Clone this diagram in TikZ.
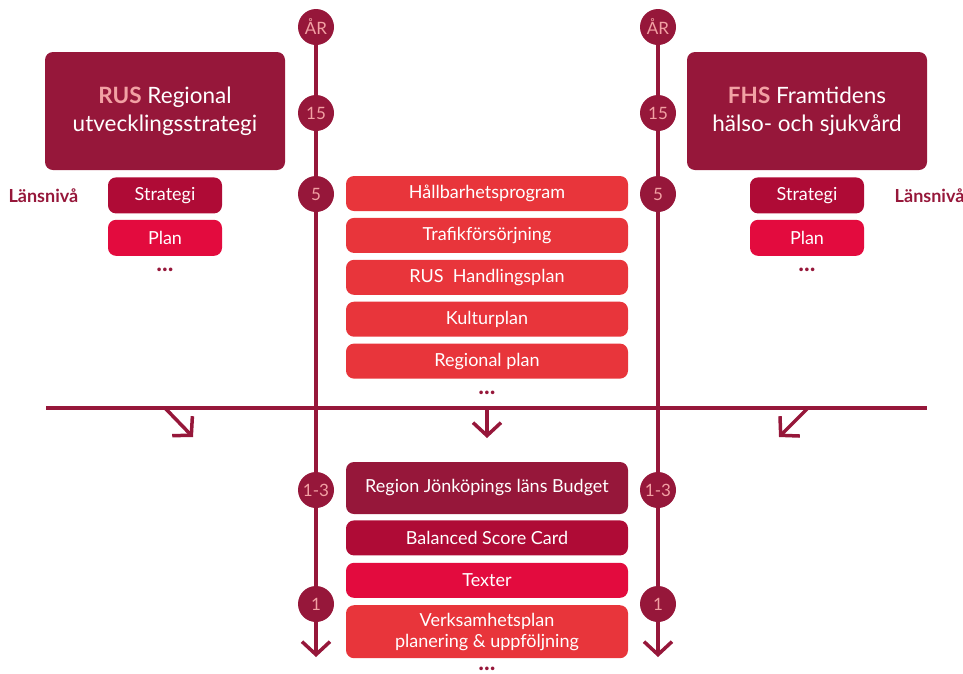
\documentclass[tikz,border=0pt]{standalone}
\usepackage{fontspec}
\setmainfont{Lato}
\usetikzlibrary{arrows.meta, positioning, backgrounds}
\definecolor{rusmaroon}{HTML}{96173A}
\definecolor{ruscrimson}{HTML}{AF0B36}
\definecolor{rusred}{HTML}{E30B3E}
\definecolor{ruscoral}{HTML}{E8353B}
\definecolor{ruspink}{HTML}{F2A1A4}

\begin{document}
\begin{tikzpicture}[x=1pt, y=-1pt, node distance=7pt,
    box/.style={rectangle, rounded corners=8pt, text=white, minimum width=282pt, minimum height=35pt, inner sep=0pt, align=center, font=\fontsize{18}{21}\selectfont},
    big/.style={box, fill=rusmaroon, minimum width=240pt, minimum height=118pt, font=\fontsize{22.5}{28}\selectfont},
    small/.style={box, minimum width=114pt, minimum height=36pt},
    year/.style={circle, fill=rusmaroon, text=ruspink, minimum size=36pt, inner sep=0pt, font=\fontsize{17}{18}\selectfont},
    level/.style={text=rusmaroon, font=\bfseries\fontsize{18}{20}\selectfont},
    dots/.style={text=rusmaroon, inner sep=0pt, anchor=base, font=\bfseries\fontsize{24}{24}\selectfont},
    line/.style={rusmaroon, line width=3.5pt},
    tip/.style={-{Straight Barb[length=13pt, width=28pt]}}
]
    \useasboundingbox (0,0) rectangle (963,673);

    \node (arL) [year] at (316,27) {ÅR};
    \node (fifteenL) [year] at (316,113) {15};
    \node (fiveL) [year] at (316,194) {5};
    \node (threeL) [year] at (316,490) {1-3};
    \node (oneL) [year] at (316,604) {1};
    \coordinate (endL) at (316,657);

    \node (arR) [year] at (658,27) {ÅR};
    \node (fifteenR) [year] at (658,113) {15};
    \node (fiveR) [year] at (658,194) {5};
    \node (threeR) [year] at (658,490) {1-3};
    \node (oneR) [year] at (658,604) {1};
    \coordinate (endR) at (658,657);

    \node (rus) [big] at (165,111) {\textbf{\textcolor{ruspink}{RUS}} Regional\\utvecklingsstrategi};
    \node (stratL) [small, fill=ruscrimson, below=7pt of rus] {Strategi};
    \node (planL) [small, fill=rusred, below=6pt of stratL] {Plan};
    \node (dotsL) [below=15pt of planL, dots] {...};
    \node (lvlL) [level, left=26pt of stratL] {Länsnivå};

    \node (fhs) [big] at (807,111) {\textbf{\textcolor{ruspink}{FHS}} Framtidens\\hälso- och sjukvård};
    \node (stratR) [small, fill=ruscrimson, below=7pt of fhs] {Strategi};
    \node (planR) [small, fill=rusred, below=6pt of stratR] {Plan};
    \node (dotsR) [below=15pt of planR, dots] {...};
    \node (lvlR) [level, right=27pt of stratR] {Länsnivå};

    \node (hall) [box, fill=ruscoral] at (487,193.5) {Hållbarhetsprogram};
    \node (trafik) [box, fill=ruscoral, below=6.5pt of hall] {Trafikförsörjning};
    \node (handling) [box, fill=ruscoral, below=6.5pt of trafik] {RUS\ \ Handlingsplan};
    \node (kultur) [box, fill=ruscoral, below=6.5pt of handling] {Kulturplan};
    \node (regplan) [box, fill=ruscoral, below=6.5pt of kultur] {Regional plan};
    \node (dotsM) [below=16pt of regplan, dots] {...};

    \node (budget) [box, fill=rusmaroon, minimum height=52pt] at (487,488) {Region Jönköpings läns Budget};
    \node (bsc) [box, fill=ruscrimson, below=6pt of budget] {Balanced Score Card};
    \node (texter) [box, fill=rusred, below=7pt of bsc] {Texter};
    \node (verks) [box, fill=ruscoral, minimum height=53pt, below=7pt of texter] {Verksamhetsplan\\planering \& uppföljning};
    \node (dotsB) [below=12pt of verks, dots] {...};

    \coordinate (hl) at (46,408);
    \coordinate (hr) at (927,408);
    \coordinate (downL) at (165,408);
    \coordinate (downM) at (487,408);
    \coordinate (downR) at (808,408);
    \coordinate (tipL) at (193,437);
    \coordinate (tipM) at (487,438);
    \coordinate (tipR) at (779,437);

    \begin{pgfonlayer}{background}
        \draw[line, tip] (arL.center) -- (endL);
        \draw[line, tip] (arR.center) -- (endR);
        \draw[line] (hl) -- (hr);
        \draw[line, tip] (downL) -- (tipL);
        \draw[line, tip] (downM) -- (tipM);
        \draw[line, tip] (downR) -- (tipR);
    \end{pgfonlayer}
\end{tikzpicture}
\end{document}
